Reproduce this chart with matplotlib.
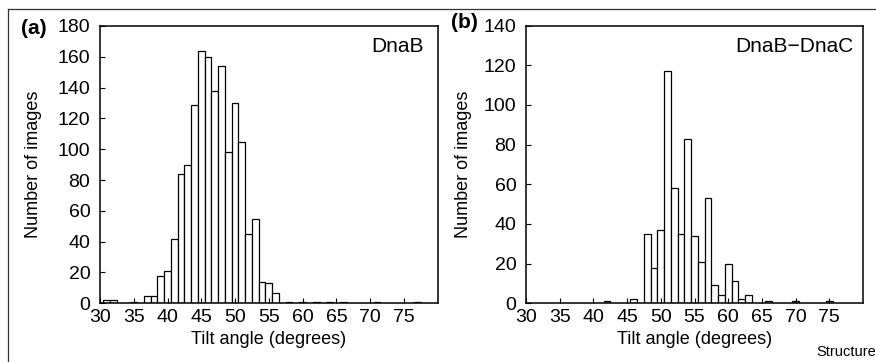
import matplotlib
matplotlib.use("Agg")
import matplotlib.pyplot as plt
from matplotlib.lines import Line2D

plt.rcParams["font.family"] = ["Liberation Sans", "DejaVu Sans"]
plt.rcParams["font.size"] = 12.5

# (a) DnaB tilt angle histogram (1 degree bins)
angles_a = [31, 32, 35, 37, 38, 39, 40, 41, 42, 43, 44, 45, 46, 47, 48,
            49, 50, 51, 52, 53, 54, 55, 56, 58, 60, 62, 64, 66, 71, 77]
counts_a = [2, 2, 1, 5, 5, 18, 21, 42, 84, 90, 129, 164, 160, 138, 154,
            98, 130, 105, 45, 55, 14, 13, 7, 1, 1, 1, 1, 1, 1, 1]

# (b) DnaB-DnaC tilt angle histogram
angles_b = [42, 46, 48, 49, 50, 51, 52, 53, 54, 55, 56, 57, 58, 59, 60,
            61, 62, 63, 66, 70, 75]
counts_b = [1, 2, 35, 18, 37, 117, 58, 35, 83, 34, 21, 53, 9, 4, 20,
            11, 2, 4, 1, 1, 1]

xticks = [30, 35, 40, 45, 50, 55, 60, 65, 70, 75]
yticks_a = [0, 20, 40, 60, 80, 100, 120, 140, 160, 180]
yticks_b = [0, 20, 40, 60, 80, 100, 120, 140]

W, H = 876, 362
fig = plt.figure(figsize=(W / 100, H / 100), dpi=100)


def px_axes(left, top, right, bottom):
    return fig.add_axes([left / W, 1 - bottom / H, (right - left) / W, (bottom - top) / H])


def style(ax, yticks, label_x):
    ax.set_xlim(30, 80)
    ax.set_ylim(0, yticks[-1])
    ax.set_xticks(xticks)
    ax.set_yticks(yticks)
    ax.tick_params(direction="in", length=3.5, width=0.8, top=False, right=False,
                   labelsize=14)
    ax.tick_params(axis="y", pad=7)
    ax.tick_params(axis="x", pad=4)
    for s in ax.spines.values():
        s.set_linewidth(1.1)
    ax.set_xlabel("Tilt angle (degrees)", fontsize=13)
    ax.set_ylabel("Number of images", fontsize=13)
    ax.xaxis.set_label_coords(0.5, -0.1)
    ax.yaxis.set_label_coords(label_x, 0.5)


ax1 = px_axes(100, 26, 437.7, 303.3)
ax1.bar(angles_a, counts_a, width=1.0, color="white", edgecolor="black", linewidth=0.9)
style(ax1, yticks_a, -0.172)
ax1.text(0.959, 0.96, "DnaB", transform=ax1.transAxes, ha="right", va="top", fontsize=15)

ax2 = px_axes(526, 25.5, 863, 303.3)
ax2.bar(angles_b, counts_b, width=1.0, color="white", edgecolor="black", linewidth=0.9)
style(ax2, yticks_b, -0.16)
ax2.text(0.971, 0.96, "DnaB\u2212DnaC", transform=ax2.transAxes, ha="right", va="top",
         fontsize=15)

fig.text(21 / W, 1 - 28 / H, "(a)", fontweight="bold", fontsize=15, ha="left", va="center")
fig.text(451 / W, 1 - 22 / H, "(b)", fontweight="bold", fontsize=15, ha="left", va="center")
fig.text(816 / W, 1 - 352 / H, "Structure", fontsize=10.5, ha="left", va="center")

# frame of the figure panel (top and left edges visible)
fig.add_artist(Line2D([8.3 / W, 8.3 / W], [0, 1 - 9.3 / H], color="#333333", linewidth=0.9))
fig.add_artist(Line2D([8.3 / W, 1], [1 - 9.3 / H, 1 - 9.3 / H], color="#333333", linewidth=0.9))

fig.savefig("out.png", dpi=100)
